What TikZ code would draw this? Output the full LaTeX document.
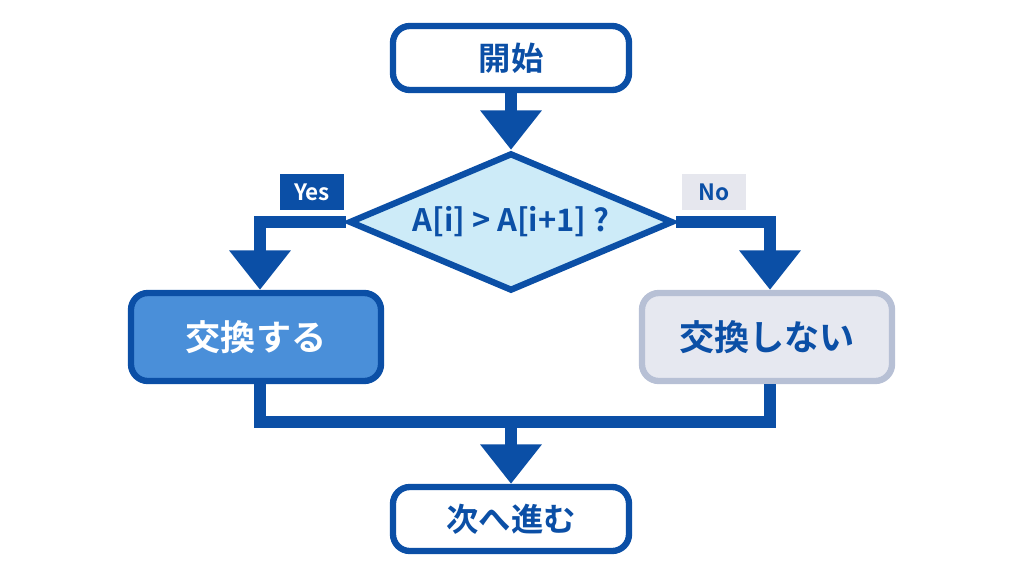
\documentclass[tikz,border=0pt]{standalone}
\usepackage{fontspec}
\setmainfont{Noto Sans CJK JP}[BoldFont={* Bold}]
\usetikzlibrary{arrows.meta,shapes.geometric}
\definecolor{flowblue}{HTML}{0B4FA6}
\definecolor{diafill}{HTML}{CDEBF8}
\definecolor{yesfill}{HTML}{4A8FD9}
\definecolor{nofill}{HTML}{E6E8F0}
\definecolor{noline}{HTML}{B7C0D5}
\definecolor{nolabel}{HTML}{E6E7EE}
\tikzset{
    term/.style={draw=flowblue, line width=4.5pt, rounded corners=12pt, fill=white,
        minimum width=5.9cm, minimum height=1.6cm, font=\bfseries\fontsize{23}{27}\selectfont, text=flowblue}, % 開始・終了
    proc/.style={line width=4.5pt, rounded corners=12pt, minimum width=6.25cm,
        minimum height=2.2cm, font=\bfseries\fontsize{25}{29}\selectfont}, % 処理
    flow/.style={draw=flowblue, line width=8.5pt, -{Triangle[width=42pt,length=28pt]}}, % 矢印
    tag/.style={font=\bfseries\fontsize{16}{18}\selectfont, minimum width=1.6cm, minimum height=0.88cm, inner sep=0pt}
}
\begin{document}
\begin{tikzpicture}[x=0.025cm, y=-0.025cm]
    \useasboundingbox (0,0) rectangle (1024,572);

    \node[term] (start) at (511,58) {開始};
    \node[diamond, draw=flowblue, line width=4.5pt, fill=diafill, aspect=2.33,
        minimum width=8.1cm, minimum height=3.45cm, inner sep=0pt,
        font=\bfseries\fontsize{22}{26}\selectfont, text=flowblue] (cmp) at (511,222) {A[i] > A[i+1] ?};
    \node[proc, draw=flowblue, fill=yesfill, text=white] (swap) at (256,337) {交換する};
    \node[proc, draw=noline, fill=nofill, text=flowblue] (keep) at (767,337) {交換しない};
    \node[term] (next) at (511,519) {次へ進む};

    \node[tag, fill=flowblue, text=white] (yes) at (312,192) {Yes};
    \node[tag, fill=nolabel, text=flowblue] (no) at (714,192) {No};

    \coordinate (join) at (511,422);
    \draw[flow] (start) -- (cmp);
    \draw[flow] (cmp.west) -| (swap.north -| 260,0);
    \draw[flow] (cmp.east) -| (keep.north -| 770,0);
    \draw[draw=flowblue, line width=8.5pt] (swap.south -| 260,0) |- (join) -| (keep.south -| 770,0);
    \draw[flow] (join) -- (next);
\end{tikzpicture}
\end{document}
